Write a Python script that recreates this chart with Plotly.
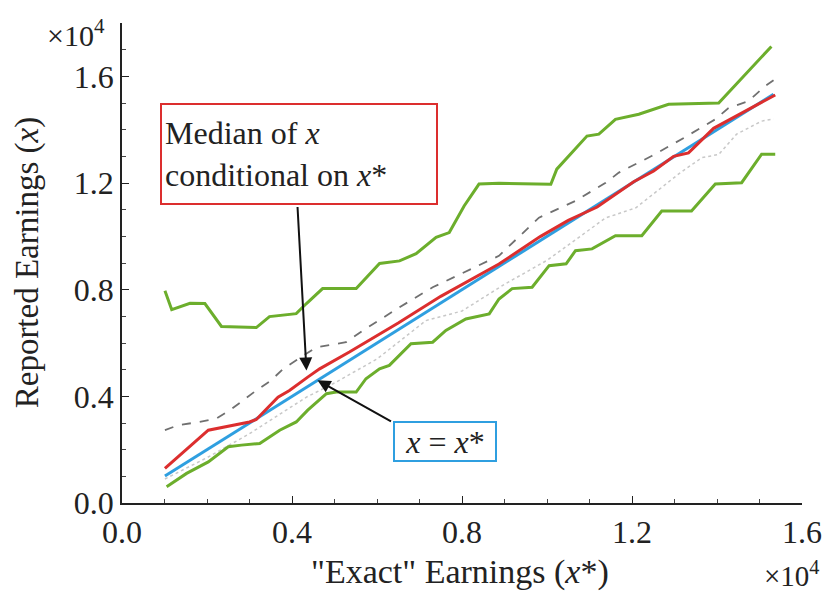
import plotly.graph_objects as go

# values in units of 10^4
upper_x = [0.101, 0.117, 0.160, 0.195, 0.234, 0.316, 0.347, 0.410, 0.434, 0.472, 0.551, 0.575, 0.606, 0.653, 0.692, 0.739, 0.770, 0.805, 0.840, 0.887, 1.009, 1.023, 1.047, 1.094, 1.122, 1.161, 1.216, 1.286, 1.404, 1.528]
upper_y = [0.796, 0.725, 0.749, 0.748, 0.662, 0.658, 0.699, 0.710, 0.748, 0.804, 0.804, 0.845, 0.898, 0.908, 0.935, 0.996, 1.014, 1.114, 1.196, 1.199, 1.195, 1.252, 1.295, 1.376, 1.383, 1.439, 1.458, 1.495, 1.500, 1.712]

lower_x = [0.105, 0.152, 0.203, 0.250, 0.281, 0.324, 0.371, 0.410, 0.437, 0.481, 0.504, 0.551, 0.574, 0.606, 0.629, 0.680, 0.731, 0.762, 0.809, 0.864, 0.887, 0.918, 0.965, 1.005, 1.045, 1.067, 1.106, 1.161, 1.223, 1.270, 1.340, 1.396, 1.458, 1.505, 1.537]
lower_y = [0.061, 0.111, 0.154, 0.211, 0.217, 0.223, 0.273, 0.304, 0.348, 0.410, 0.416, 0.416, 0.466, 0.503, 0.516, 0.597, 0.603, 0.647, 0.690, 0.709, 0.765, 0.804, 0.809, 0.890, 0.897, 0.946, 0.953, 1.002, 1.002, 1.095, 1.095, 1.196, 1.201, 1.308, 1.308]

median_x = [0.101, 0.203, 0.300, 0.316, 0.367, 0.394, 0.437, 0.465, 0.535, 0.650, 0.750, 0.887, 0.984, 1.050, 1.118, 1.204, 1.251, 1.298, 1.333, 1.392, 1.537]
median_y = [0.130, 0.273, 0.304, 0.313, 0.397, 0.422, 0.472, 0.503, 0.566, 0.675, 0.775, 0.896, 0.999, 1.060, 1.110, 1.205, 1.245, 1.300, 1.313, 1.405, 1.530]

mean_x = [0.101, 0.132, 0.183, 0.222, 0.254, 0.285, 0.316, 0.351, 0.379, 0.410, 0.457, 0.527, 0.567, 0.653, 0.731, 0.887, 0.981, 1.067, 1.138, 1.169, 1.246, 1.322, 1.396, 1.427, 1.474, 1.513, 1.533]
mean_y = [0.273, 0.292, 0.304, 0.317, 0.348, 0.385, 0.422, 0.460, 0.503, 0.535, 0.584, 0.603, 0.647, 0.734, 0.809, 0.927, 1.070, 1.133, 1.201, 1.239, 1.301, 1.369, 1.439, 1.481, 1.507, 1.563, 1.585]

dot_x = [0.101, 0.200, 0.300, 0.434, 0.500, 0.600, 0.715, 0.800, 0.900, 1.000, 1.138, 1.209, 1.310, 1.364, 1.404, 1.446, 1.505, 1.533]
dot_y = [0.090, 0.170, 0.260, 0.397, 0.450, 0.540, 0.684, 0.720, 0.820, 0.910, 1.069, 1.107, 1.234, 1.295, 1.307, 1.383, 1.432, 1.440]

ident_x = [0.101, 1.533]
ident_y = [0.101, 1.533]

tick_vals = [0.0, 0.4, 0.8, 1.2, 1.6]
tick_text = ["0.0", "0.4", "0.8", "1.2", "1.6"]

FONT = "Liberation Serif"
GREEN = "#6cae2c"
RED = "#dc2e2e"
BLUE = "#2f9fe0"

fig = go.Figure()
fig.add_trace(go.Scatter(x=dot_x, y=dot_y, mode="lines",
                         line=dict(color="#c8c8c8", width=1.5, dash="dot")))
fig.add_trace(go.Scatter(x=mean_x, y=mean_y, mode="lines",
                         line=dict(color="#707070", width=1.8, dash="dash")))
fig.add_trace(go.Scatter(x=upper_x, y=upper_y, mode="lines",
                         line=dict(color=GREEN, width=3)))
fig.add_trace(go.Scatter(x=lower_x, y=lower_y, mode="lines",
                         line=dict(color=GREEN, width=3)))
fig.add_trace(go.Scatter(x=ident_x, y=ident_y, mode="lines",
                         line=dict(color=BLUE, width=3)))
fig.add_trace(go.Scatter(x=median_x, y=median_y, mode="lines",
                         line=dict(color=RED, width=3)))

L, R, T, B = 122, 30, 23, 91
W, H = 834, 594
pw, ph = W - L - R, H - T - B


def px2paper(px, py):
    return (px - L) / pw, (H - B - py) / ph


annots = []
# exponent labels
xp, yp = px2paper(76, 33)
annots.append(dict(x=xp, y=yp, xref="paper", yref="paper", showarrow=False,
                   text="×10<sup>4</sup>", font=dict(family=FONT, size=30, color="#222"),
                   xanchor="center", yanchor="middle"))
xp, yp = px2paper(824, 574)
annots.append(dict(x=xp, y=yp, xref="paper", yref="paper", showarrow=False,
                   text="×10<sup>4</sup>", font=dict(family=FONT, size=29, color="#222"),
                   xanchor="right", yanchor="middle"))
# axis titles
xp, yp = px2paper(27, 263)
annots.append(dict(x=xp, y=yp, xref="paper", yref="paper", showarrow=False, textangle=-90,
                   text="Reported Earnings (<i>x</i>)", font=dict(family=FONT, size=33, color="#222"),
                   xanchor="center", yanchor="middle"))
xp, yp = px2paper(461, 572)
annots.append(dict(x=xp, y=yp, xref="paper", yref="paper", showarrow=False,
                   text='"Exact" Earnings (<i>x</i>*)', font=dict(family=FONT, size=34, color="#222"),
                   xanchor="center", yanchor="middle"))
# boxes
xp, yp = px2paper(299.5, 154)
annots.append(dict(x=xp, y=yp, xref="paper", yref="paper", showarrow=False,
                   text="Median of <i>x</i><br>conditional on <i>x</i>*",
                   font=dict(family=FONT, size=32, color="#222"), align="left",
                   xanchor="center", yanchor="middle", width=268, height=92,
                   bordercolor=RED, borderwidth=2, borderpad=3, bgcolor="white"))
xp, yp = px2paper(446, 441)
annots.append(dict(x=xp, y=yp, xref="paper", yref="paper", showarrow=False,
                   text="<i>x</i> = <i>x</i>*",
                   font=dict(family=FONT, size=32, color="#222"), align="center",
                   xanchor="center", yanchor="middle", width=96, height=33,
                   bordercolor=BLUE, borderwidth=2, borderpad=2, bgcolor="white"))
# arrows
annots.append(dict(x=0.434, y=0.497, xref="x", yref="y", text="", showarrow=True,
                   ax=-9, ay=-165, arrowhead=2, arrowsize=1.3, arrowwidth=2, arrowcolor="#111"))
annots.append(dict(x=0.460, y=0.460, xref="x", yref="y", text="", showarrow=True,
                   ax=75, ay=42, arrowhead=2, arrowsize=1.3, arrowwidth=2, arrowcolor="#111"))

axis_common = dict(range=None, showgrid=False, zeroline=False, showline=True, linecolor="#222",
                   linewidth=1.5, ticks="inside", ticklen=7, tickcolor="#222", tickwidth=1.2,
                   tickvals=tick_vals, ticktext=tick_text,
                   tickfont=dict(family=FONT, size=32, color="#222"),
                   minor=dict(ticks="inside", ticklen=4, dtick=0.1, tick0=0, tickcolor="#444",
                              showgrid=False))

xa = dict(axis_common)
xa["range"] = [0, 1.6]
ya = dict(axis_common)
ya["range"] = [0, 1.8]

fig.update_layout(
    width=W, height=H,
    margin=dict(l=L, r=R, t=T, b=B),
    paper_bgcolor="white", plot_bgcolor="white",
    showlegend=False,
    xaxis=xa, yaxis=ya,
    annotations=annots,
)

fig.write_html("out.html")
